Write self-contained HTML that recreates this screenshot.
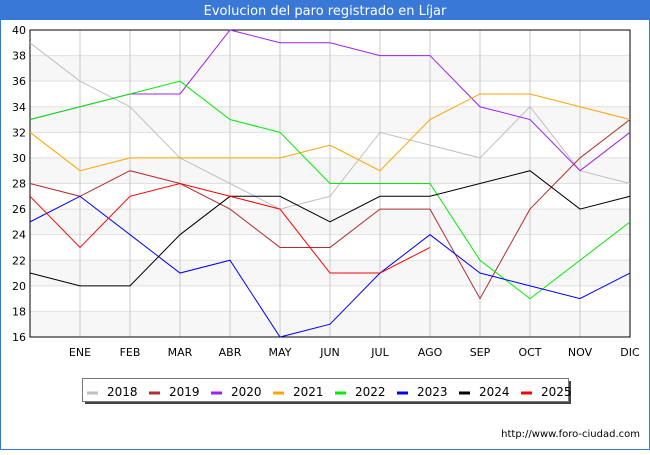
<!DOCTYPE html>
<html><head><meta charset="utf-8"><style>
body{margin:0;width:650px;height:450px;overflow:hidden;background:#fff;font-family:"Liberation Sans","DejaVu Sans",sans-serif}
</style></head><body>
<svg id="c" width="650" height="450" xmlns="http://www.w3.org/2000/svg">
<rect x="0.5" y="0.5" width="649" height="449" fill="#fff" stroke="#3a78d8"/>
<rect x="0" y="0" width="650" height="20" fill="#3a78d8"/>
<text x="325" y="15" text-anchor="middle" font-size="13" fill="#fff" font-family="DejaVu Sans, sans-serif">Evolucion del paro registrado en Líjar</text>
<g id="plot"></g>
<text x="640" y="437" text-anchor="end" font-size="10" fill="#000" font-family="DejaVu Sans, sans-serif">http://www.foro-ciudad.com</text>
</svg>
<script>
const months=["","ENE","FEB","MAR","ABR","MAY","JUN","JUL","AGO","SEP","OCT","NOV","DIC"];
const yTicks=[16,18,20,22,24,26,28,30,32,34,36,38,40];
const years=["2018","2019","2020","2021","2022","2023","2024","2025"];
const colors=["#c0c0c0","#b03030","#a020f0","#ffa500","#00ee00","#0000ff","#000000","#ff0000"];
const s2018=[39,36,34,30,28,26,27,32,31,30,34,29,28];
const s2019=[28,27,29,28,26,23,23,26,26,19,26,30,33];
const s2020=[33,34,35,35,40,39,39,38,38,34,33,29,32];
const s2021=[32,29,30,30,30,30,31,29,33,35,35,34,33];
const s2022=[33,34,35,36,33,32,28,28,28,22,19,22,25];
const s2023=[25,27,24,21,22,16,17,21,24,21,20,19,21];
const s2024=[21,20,20,24,27,27,25,27,27,28,29,26,27];
const s2025=[27,23,27,28,27,26,21,21,23];
const series=[s2018,s2019,s2020,s2021,s2022,s2023,s2024,s2025];
const X0=30,X1=630,Y0=337,Y1=30,ymin=16,ymax=40;
const xs=i=>X0+i*(X1-X0)/(months.length-1);
const ys=v=>Y0-(v-ymin)*(Y0-Y1)/(ymax-ymin);
const NS="http://www.w3.org/2000/svg";
const g=document.getElementById('plot');
function mk(t,a){const e=document.createElementNS(NS,t);for(const k in a)e.setAttribute(k,a[k]);g.appendChild(e);return e;}
for(let i=0;i<yTicks.length-1;i++){if(i%2===0){const b=mk('rect',{x:X0,y:ys(yTicks[i+1]),width:X1-X0,height:ys(yTicks[i])-ys(yTicks[i+1]),fill:'#f7f7f7'});

}}
yTicks.forEach(v=>{const l=mk('line',{x1:X0,x2:X1,y1:ys(v),y2:ys(v),stroke:'#e0e0e0'});


const t=mk('text',{x:X0-4,y:ys(v)+4,'text-anchor':'end','font-size':11,'font-family':'DejaVu Sans, sans-serif'});t.textContent=v;

});
months.forEach((m,i)=>{if(i>0){const l=mk('line',{x1:xs(i),x2:xs(i),y1:Y1,y2:Y0,stroke:'#c8c8c8'});

}
const t=mk('text',{x:xs(i),y:356,'text-anchor':'middle','font-size':11,'font-family':'DejaVu Sans, sans-serif'});t.textContent=m;

});
const bd=mk('rect',{x:X0,y:Y1,width:X1-X0,height:Y0-Y1,fill:'none',stroke:'#000'});


series.forEach((s,k)=>{const p=mk('polyline',{points:s.map((v,i)=>xs(i)+','+ys(v)).join(' '),fill:'none',stroke:colors[k],'stroke-width':1});

});
const sh=mk('rect',{x:85,y:381,width:486,height:23,fill:'#444'});


const lb=mk('rect',{x:82.5,y:378.5,width:486,height:23,fill:'#fff',stroke:'#777'});


years.forEach((y,k)=>{const x=87+k*62;const m=mk('line',{x1:x,x2:x+11,y1:393,y2:393,stroke:colors[k],'stroke-width':3});


const t=mk('text',{x:x+20,y:396,'font-size':12,'font-family':'DejaVu Sans, sans-serif'});t.textContent=y;

});
</script>
</body></html>
